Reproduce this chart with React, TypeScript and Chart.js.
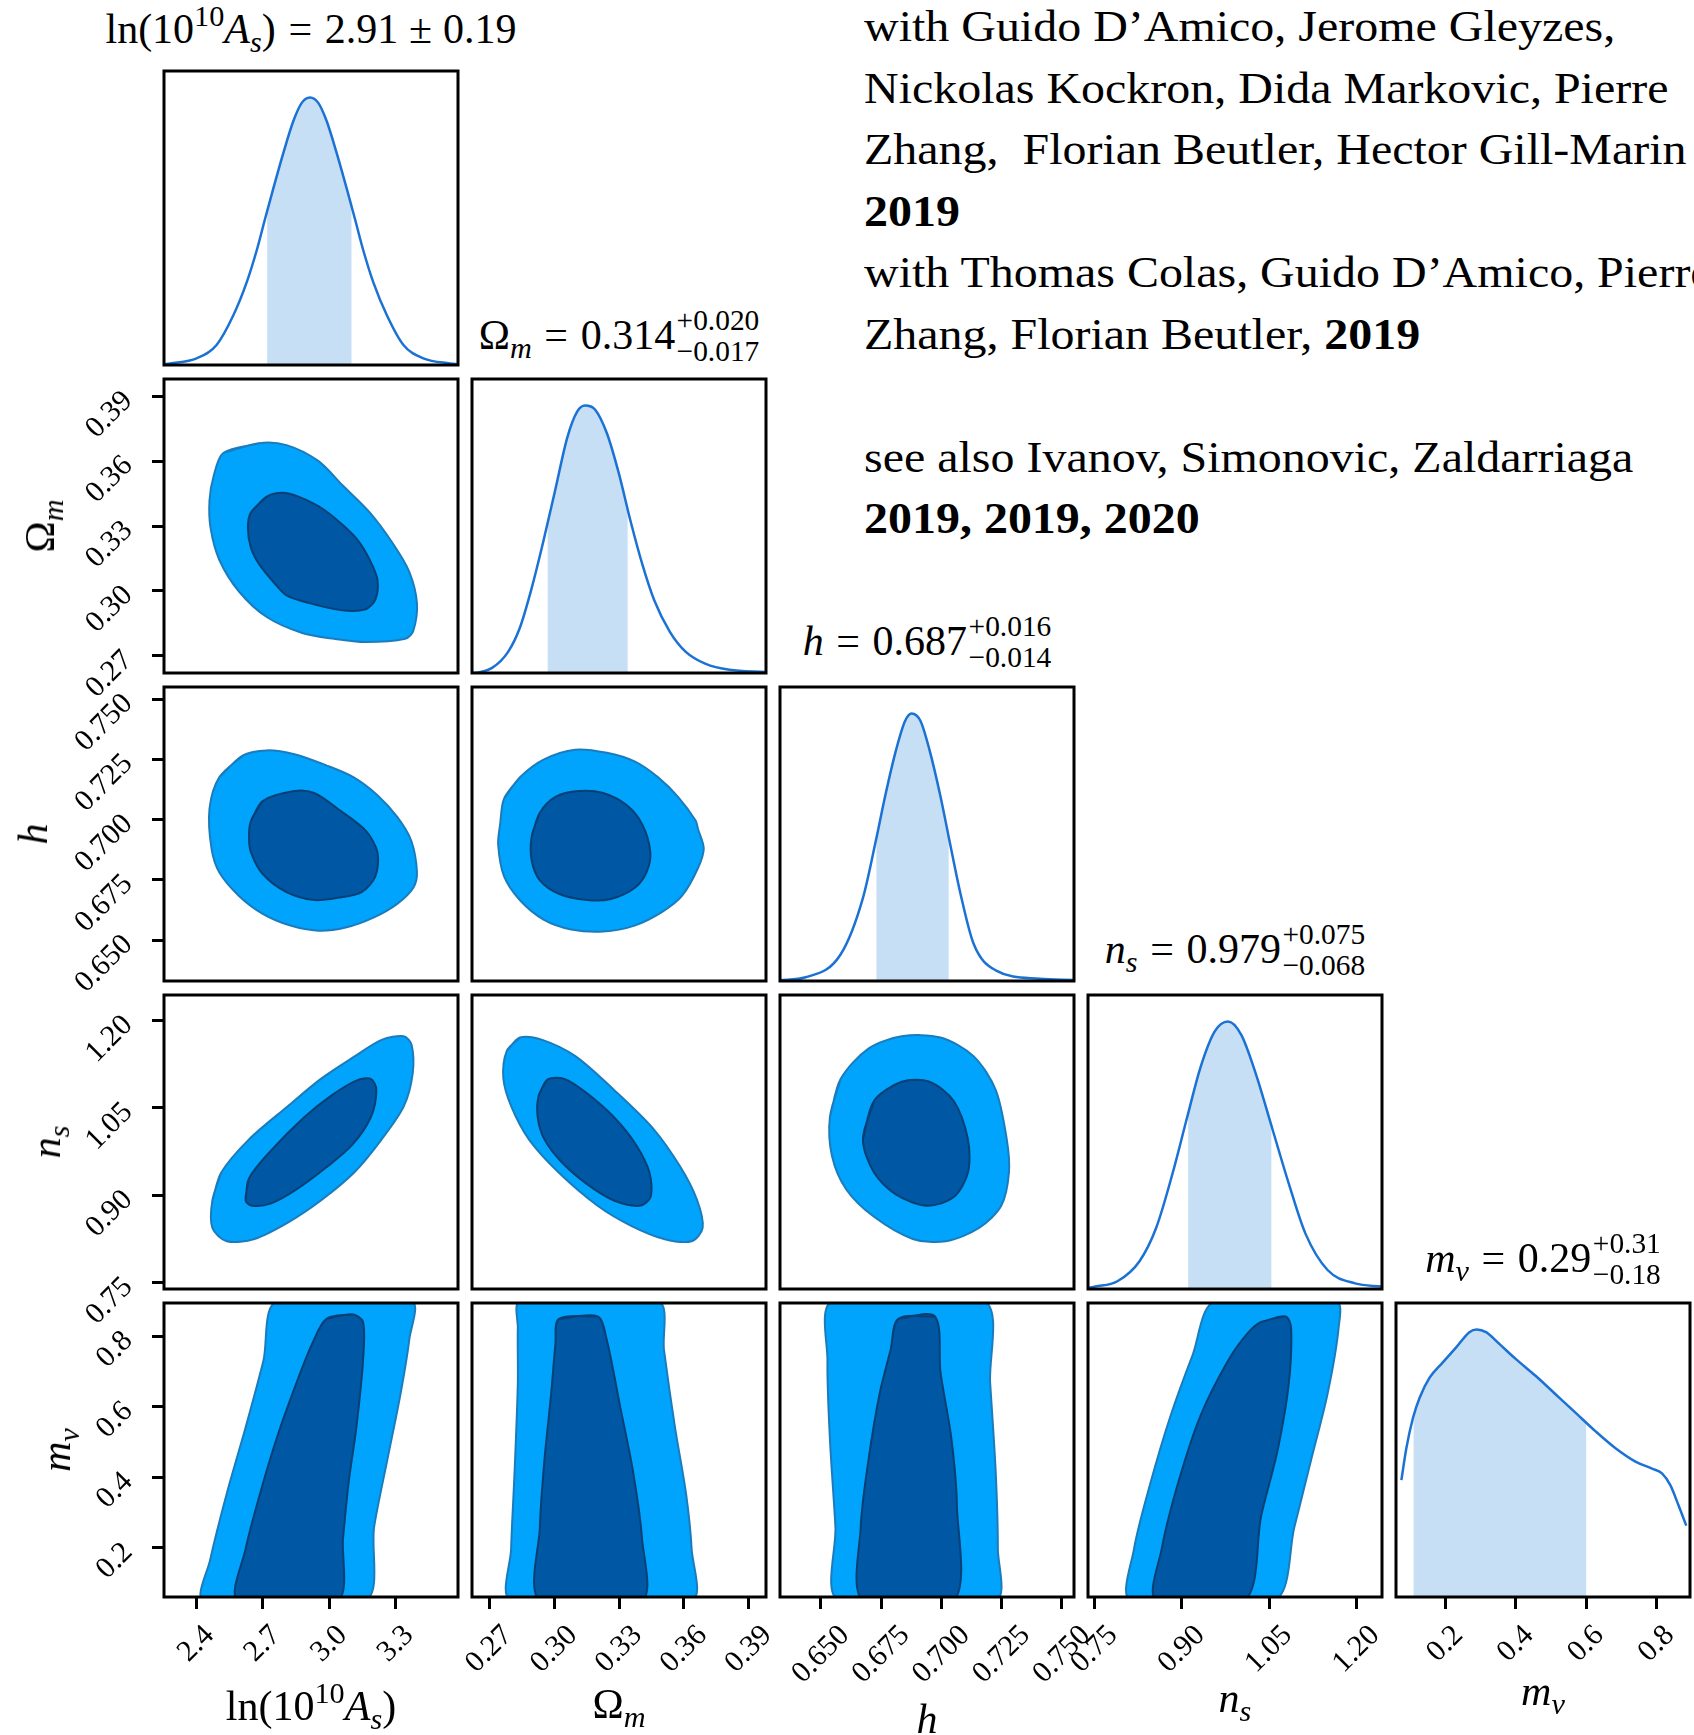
import React, { useEffect, useRef } from 'react';
import { Chart, registerables } from 'chart.js';

Chart.register(...registerables);

type P = [number, number];

// ---------------- data ----------------
const PARAM_RANGES: P[] = [
  [2.255, 3.58],
  [0.262, 0.398],
  [0.633, 0.755],
  [0.739, 1.244],
  [0.06, 0.895],
];
const TICK_VALUES: number[][] = [
  [2.4, 2.7, 3.0, 3.3],
  [0.27, 0.3, 0.33, 0.36, 0.39],
  [0.65, 0.675, 0.7, 0.725, 0.75],
  [0.75, 0.9, 1.05, 1.2],
  [0.2, 0.4, 0.6, 0.8],
];
const TICK_LABELS: string[][] = [
  ['2.4', '2.7', '3.0', '3.3'],
  ['0.27', '0.30', '0.33', '0.36', '0.39'],
  ['0.650', '0.675', '0.700', '0.725', '0.750'],
  ['0.75', '0.90', '1.05', '1.20'],
  ['0.2', '0.4', '0.6', '0.8'],
];
const DENSITY_MAX = 1.099;

const POST_CENTER = ['2.91', '0.314', '0.687', '0.979', '0.29'];
const POST_PLUS = ['0.19', '0.020', '0.016', '0.075', '0.31'];
const POST_MINUS = ['0.19', '0.017', '0.014', '0.068', '0.18'];
const SHADE_BOUNDS: P[] = [
  [2.72, 3.1],
  [0.297, 0.334],
  [0.673, 0.703],
  [0.911, 1.054],
  [0.11, 0.6],
];

const AS_1D_X = [2.255, 2.282, 2.402, 2.492, 2.567, 2.628, 2.673, 2.71, 2.748, 2.793, 2.838, 2.875, 2.913, 2.951, 2.988, 3.033, 3.078, 3.116, 3.153, 3.198, 3.26, 3.334, 3.424, 3.544, 3.58];
const AS_1D_Y = [0.003, 0.006, 0.025, 0.075, 0.185, 0.31, 0.429, 0.545, 0.661, 0.793, 0.912, 0.979, 1.0, 0.979, 0.912, 0.793, 0.661, 0.545, 0.429, 0.31, 0.185, 0.075, 0.025, 0.006, 0.003];
const OM_1D_X = [0.262, 0.264, 0.2713, 0.2787, 0.2841, 0.2896, 0.2951, 0.3006, 0.3061, 0.3107, 0.3143, 0.3189, 0.3244, 0.3299, 0.3353, 0.3408, 0.3463, 0.3536, 0.3609, 0.3701, 0.3811, 0.3975];
const OM_1D_Y = [0.0, 0.001, 0.019, 0.079, 0.168, 0.317, 0.495, 0.688, 0.881, 0.978, 1.0, 0.985, 0.896, 0.747, 0.569, 0.406, 0.272, 0.153, 0.079, 0.034, 0.012, 0.004];
const H_1D_X = [0.633, 0.6436, 0.6582, 0.6674, 0.6729, 0.6766, 0.6812, 0.6849, 0.6876, 0.6913, 0.695, 0.6996, 0.7032, 0.7078, 0.7133, 0.7225, 0.7409, 0.7546];
const H_1D_Y = [0.003, 0.014, 0.1, 0.31, 0.53, 0.69, 0.865, 0.972, 1.0, 0.972, 0.865, 0.69, 0.53, 0.33, 0.14, 0.04, 0.008, 0.004];
const NS_1D_X = [0.739, 0.7515, 0.7895, 0.8275, 0.856, 0.8845, 0.9092, 0.932, 0.9567, 0.9795, 1.0023, 1.027, 1.0555, 1.084, 1.1125, 1.1505, 1.198, 1.2436];
const NS_1D_Y = [0.004, 0.009, 0.029, 0.104, 0.228, 0.434, 0.641, 0.827, 0.963, 1.0, 0.95, 0.806, 0.6, 0.393, 0.207, 0.071, 0.021, 0.009];
const MNU_1D_X = [0.0753, 0.0894, 0.1081, 0.1271, 0.1554, 0.193, 0.2309, 0.2685, 0.2892, 0.3158, 0.3534, 0.4006, 0.4572, 0.5138, 0.5704, 0.6269, 0.6835, 0.7401, 0.7871, 0.8154, 0.8391, 0.8626, 0.8844];
const MNU_1D_Y = [0.437, 0.556, 0.669, 0.745, 0.82, 0.877, 0.933, 0.99, 1.0, 0.99, 0.946, 0.889, 0.826, 0.757, 0.688, 0.619, 0.556, 0.506, 0.48, 0.462, 0.418, 0.342, 0.267];

const AS_OM_OUTER: P[] = [[2.522, 0.3638], [2.683, 0.3683], [2.807, 0.3674], [2.95, 0.3601], [3.057, 0.3491], [3.182, 0.3363], [3.288, 0.3217], [3.36, 0.3089], [3.395, 0.2942], [3.378, 0.2814], [3.342, 0.2778], [3.164, 0.2763], [3.021, 0.2778], [2.878, 0.2805], [2.718, 0.2879], [2.593, 0.2997], [2.504, 0.3144], [2.465, 0.329], [2.46, 0.3418], [2.478, 0.3528]];
const AS_OM_INNER: P[] = [[2.647, 0.3363], [2.718, 0.3436], [2.79, 0.3454], [2.861, 0.3436], [2.968, 0.3381], [3.057, 0.3308], [3.128, 0.3235], [3.182, 0.3144], [3.217, 0.3052], [3.208, 0.2961], [3.164, 0.2915], [3.057, 0.291], [2.914, 0.2942], [2.807, 0.2979], [2.754, 0.3034], [2.683, 0.3125], [2.647, 0.3199], [2.633, 0.329]];
const AS_H_OUTER: P[] = [[2.504, 0.7175], [2.611, 0.7266], [2.718, 0.7287], [2.843, 0.7271], [2.986, 0.7225], [3.11, 0.7175], [3.217, 0.7101], [3.306, 0.7011], [3.369, 0.6913], [3.395, 0.6781], [3.378, 0.6716], [3.306, 0.665], [3.199, 0.6593], [3.074, 0.6552], [2.95, 0.6539], [2.825, 0.656], [2.7, 0.6609], [2.593, 0.6683], [2.504, 0.6781], [2.469, 0.688], [2.46, 0.7044]];
const AS_H_INNER: P[] = [[2.647, 0.6995], [2.7, 0.7077], [2.843, 0.7118], [2.932, 0.711], [3.039, 0.7044], [3.164, 0.6954], [3.217, 0.6864], [3.208, 0.6765], [3.146, 0.6699], [3.039, 0.6675], [2.932, 0.6666], [2.807, 0.6699], [2.7, 0.6774], [2.647, 0.6864], [2.638, 0.6929]];
const OM_H_OUTER: P[] = [[0.2768, 0.7086], [0.2841, 0.7175], [0.2951, 0.7249], [0.3097, 0.729], [0.3244, 0.7277], [0.3372, 0.7241], [0.3481, 0.7175], [0.3573, 0.7094], [0.3655, 0.6995], [0.3665, 0.6962], [0.3692, 0.688], [0.3665, 0.6798], [0.3591, 0.6683], [0.35, 0.6617], [0.3372, 0.656], [0.3226, 0.6535], [0.3079, 0.6544], [0.2951, 0.6585], [0.2841, 0.6666], [0.2768, 0.6765], [0.2741, 0.6896], [0.275, 0.6979]];
const OM_H_INNER: P[] = [[0.2896, 0.6929], [0.2933, 0.7027], [0.3006, 0.7094], [0.3115, 0.7118], [0.3226, 0.711], [0.3335, 0.706], [0.3408, 0.6979], [0.3445, 0.6864], [0.3427, 0.6781], [0.3372, 0.6716], [0.3262, 0.667], [0.3152, 0.6666], [0.3024, 0.6691], [0.2933, 0.6749], [0.2896, 0.6831]];
const AS_NS_OUTER: P[] = [[2.473, 0.891], [2.513, 0.939], [2.638, 0.996], [2.813, 1.053], [2.962, 1.1], [3.112, 1.138], [3.236, 1.167], [3.336, 1.173], [3.371, 1.158], [3.376, 1.11], [3.336, 1.053], [3.236, 0.996], [3.112, 0.939], [2.962, 0.891], [2.813, 0.853], [2.663, 0.825], [2.538, 0.821], [2.473, 0.844]];
const AS_NS_INNER: P[] = [[2.623, 0.891], [2.638, 0.929], [2.738, 0.977], [2.887, 1.034], [3.012, 1.072], [3.122, 1.097], [3.187, 1.1], [3.212, 1.081], [3.187, 1.034], [3.102, 0.986], [2.987, 0.948], [2.852, 0.91], [2.738, 0.886], [2.653, 0.882]];
const OM_NS_OUTER: P[] = [[0.2781, 1.148], [0.2842, 1.171], [0.2945, 1.167], [0.3098, 1.139], [0.3277, 1.081], [0.3457, 1.015], [0.3585, 0.948], [0.3662, 0.891], [0.3687, 0.844], [0.3636, 0.821], [0.3508, 0.825], [0.3354, 0.848], [0.3201, 0.882], [0.3021, 0.939], [0.2883, 0.996], [0.2801, 1.053], [0.2765, 1.101]];
const OM_NS_INNER: P[] = [[0.2929, 1.072], [0.297, 1.099], [0.3047, 1.1], [0.3149, 1.076], [0.3277, 1.034], [0.338, 0.986], [0.3441, 0.939], [0.3446, 0.897], [0.3395, 0.882], [0.3277, 0.891], [0.3149, 0.92], [0.3032, 0.958], [0.2955, 0.996], [0.2924, 1.034]];
const H_NS_OUTER: P[] = [[0.6537, 1.034], [0.6582, 1.1], [0.6697, 1.152], [0.6835, 1.173], [0.6996, 1.171], [0.7133, 1.139], [0.7225, 1.081], [0.7271, 0.996], [0.728, 0.939], [0.7248, 0.882], [0.7156, 0.844], [0.7018, 0.821], [0.6881, 0.825], [0.672, 0.863], [0.6605, 0.91], [0.6546, 0.967]];
const H_NS_INNER: P[] = [[0.6674, 0.996], [0.672, 1.062], [0.6835, 1.095], [0.695, 1.095], [0.7051, 1.062], [0.711, 0.996], [0.711, 0.939], [0.7051, 0.897], [0.6941, 0.882], [0.6812, 0.901], [0.672, 0.939]];
const AS_MNU_OUTER: P[] = [[2.763, 0.9], [3.371, 0.9], [3.361, 0.794], [3.321, 0.637], [3.261, 0.448], [3.202, 0.259], [3.162, 0.05], [2.434, 0.05], [2.463, 0.165], [2.538, 0.354], [2.623, 0.542], [2.703, 0.731]];
const AS_MNU_INNER: P[] = [[2.987, 0.85], [3.102, 0.863], [3.152, 0.841], [3.152, 0.731], [3.122, 0.542], [3.087, 0.385], [3.062, 0.228], [3.037, 0.05], [2.588, 0.05], [2.623, 0.197], [2.688, 0.354], [2.763, 0.511], [2.852, 0.668], [2.922, 0.778]];
const OM_MNU_OUTER: P[] = [[0.2842, 0.9], [0.3482, 0.9], [0.3508, 0.762], [0.3559, 0.542], [0.361, 0.354], [0.3636, 0.196], [0.3636, 0.05], [0.2801, 0.05], [0.2801, 0.196], [0.2817, 0.416], [0.2832, 0.668], [0.2832, 0.825]];
const OM_MNU_INNER: P[] = [[0.3022, 0.85], [0.3201, 0.857], [0.3242, 0.794], [0.3304, 0.605], [0.3365, 0.416], [0.3406, 0.228], [0.3406, 0.05], [0.2934, 0.05], [0.2934, 0.259], [0.2955, 0.448], [0.2986, 0.636], [0.3006, 0.778]];
const H_MNU_OUTER: P[] = [[0.6546, 0.9], [0.7179, 0.9], [0.7202, 0.668], [0.7225, 0.416], [0.7234, 0.196], [0.7225, 0.05], [0.6573, 0.05], [0.656, 0.259], [0.6537, 0.511], [0.6527, 0.731]];
const H_MNU_INNER: P[] = [[0.6821, 0.85], [0.6973, 0.857], [0.6996, 0.699], [0.7041, 0.511], [0.7064, 0.322], [0.7051, 0.05], [0.6674, 0.05], [0.6665, 0.259], [0.6697, 0.448], [0.6743, 0.636], [0.6789, 0.762]];
const NS_MNU_OUTER: P[] = [[0.9567, 0.9], [1.1657, 0.9], [1.1695, 0.825], [1.1505, 0.637], [1.122, 0.448], [1.0935, 0.259], [1.0593, 0.05], [0.8123, 0.05], [0.818, 0.196], [0.8465, 0.385], [0.8807, 0.574], [0.9187, 0.747]];
const NS_MNU_INNER: P[] = [[1.0365, 0.841], [1.0783, 0.857], [1.0878, 0.825], [1.084, 0.668], [1.065, 0.479], [1.0365, 0.291], [1.008, 0.05], [0.856, 0.05], [0.8655, 0.196], [0.894, 0.385], [0.932, 0.574], [0.9795, 0.731], [1.0137, 0.81]];

const NOTE_LINES: [string, boolean][][] = [
  [['with Guido D\u2019Amico, Jerome Gleyzes,', false]],
  [['Nickolas Kockron, Dida Markovic, Pierre', false]],
  [['Zhang,  Florian Beutler, Hector Gill-Marin', false]],
  [['2019', true]],
  [['with Thomas Colas, Guido D\u2019Amico, Pierre', false]],
  [['Zhang, Florian Beutler, ', false], ['2019', true]],
  [],
  [['see also Ivanov, Simonovic, Zaldarriaga', false]],
  [['2019, 2019, 2020', true]],
];

// tables built from the arrays above
const CURVES = [
  { x: AS_1D_X, y: AS_1D_Y },
  { x: OM_1D_X, y: OM_1D_Y },
  { x: H_1D_X, y: H_1D_Y },
  { x: NS_1D_X, y: NS_1D_Y },
  { x: MNU_1D_X, y: MNU_1D_Y },
];
const CONTOURS: Record<string, { inner: P[]; outer: P[] }> = {
  '10': { inner: AS_OM_INNER, outer: AS_OM_OUTER },
  '20': { inner: AS_H_INNER, outer: AS_H_OUTER },
  '21': { inner: OM_H_INNER, outer: OM_H_OUTER },
  '30': { inner: AS_NS_INNER, outer: AS_NS_OUTER },
  '31': { inner: OM_NS_INNER, outer: OM_NS_OUTER },
  '32': { inner: H_NS_INNER, outer: H_NS_OUTER },
  '40': { inner: AS_MNU_INNER, outer: AS_MNU_OUTER },
  '41': { inner: OM_MNU_INNER, outer: OM_MNU_OUTER },
  '42': { inner: H_MNU_INNER, outer: H_MNU_OUTER },
  '43': { inner: NS_MNU_INNER, outer: NS_MNU_OUTER },
};

// ---------------- layout / style ----------------
const PANEL = 294;
const STEP = 308;
const X0 = 164;
const Y0 = 71;
const PAD = 4;
const YAXIS_W = 130;
const XAXIS_H = 110;
const SERIF = '"Liberation Serif", "Times New Roman", serif';
const TITLE_FS = 42;
const TICK_FS = 30;
const NOTE_FS = 44;
const NOTE_SCALE_X = 1.09;
const TITLE_GAP = [28, 30, 32, 32, 31];
const XLABEL_BASE = [1720, 1718, 1733, 1712, 1705];
const YLABEL_X = [0, 40, 33, 46, 56];

const OUTER_FILL = '#00a4fc';
const OUTER_EDGE = '#1b7cbd';
const INNER_FILL = '#0058a4';
const INNER_EDGE = '#083f74';
const CURVE_COLOR = '#1b72d4';
const SHADE_COLOR = '#c7dff5';

const PANELS: { row: number; col: number }[] = [];
for (let r = 0; r < 5; r++) for (let c = 0; c <= r; c++) PANELS.push({ row: r, col: c });

function labelOffsetFor(labels: string[]) {
  const cv = document.createElement('canvas');
  const ctx = cv.getContext('2d')!;
  ctx.font = `${TICK_FS}px ${SERIF}`;
  const w = Math.max(...labels.map((l) => ctx.measureText(l).width));
  return 0.354 * w;
}

function panelGeom(row: number, col: number) {
  const showX = row === 4;
  const showY = col === 0 && row > 0;
  const padL = showX && !showY ? 50 : PAD;
  const padR = showX ? 50 : PAD;
  const padT = PAD;
  const padB = showY && !showX ? 70 : PAD;
  const yw = showY ? YAXIS_W : 0;
  const xh = showX ? XAXIS_H : 0;
  const left = X0 + STEP * col - padL - yw;
  const top = Y0 + STEP * row - padT;
  const width = padL + yw + PANEL + padR;
  const height = padT + PANEL + padB + xh;
  return { showX, showY, left, top, width, height, padL, padR, padT, padB };
}

function axisOptions(param: number, horizontal: boolean, show: boolean, is1DY: boolean) {
  const range = is1DY ? [0, DENSITY_MAX] : PARAM_RANGES[param];
  const opts: any = {
    type: 'linear',
    min: range[0],
    max: range[1],
    display: show,
    grid: {
      drawOnChartArea: false,
      drawTicks: true,
      tickLength: 12,
      tickWidth: 3,
      lineWidth: 3,
      color: '#000',
      tickColor: '#000',
    },
    border: { display: false },
    ticks: {
      autoSkip: false,
      minRotation: 45,
      maxRotation: 45,
      padding: horizontal ? 9 : 24,
      labelOffset: horizontal && show ? labelOffsetFor(TICK_LABELS[param]) : 0,
      color: '#000',
      font: { family: SERIF, size: TICK_FS },
      callback: (_v: any, i: number) => TICK_LABELS[param][i],
    },
  };
  if (!is1DY) {
    opts.afterBuildTicks = (s: any) => {
      s.ticks = TICK_VALUES[param].map((v) => ({ value: v }));
    };
  }
  if (show) {
    opts.afterFit = (s: any) => {
      if (horizontal) s.height = XAXIS_H;
      else s.width = YAXIS_W;
      s.paddingLeft = 0;
      s.paddingRight = 0;
      s.paddingTop = 0;
      s.paddingBottom = 0;
    };
  }
  return opts;
}

const framePlugin = {
  id: 'frame',
  afterDraw(chart: any) {
    const a = chart.chartArea;
    const ctx = chart.ctx;
    ctx.save();
    ctx.strokeStyle = '#000';
    ctx.lineWidth = 3;
    ctx.strokeRect(a.left, a.top, a.right - a.left, a.bottom - a.top);
    ctx.restore();
  },
};

function makeChart(canvas: HTMLCanvasElement, row: number, col: number) {
  const g = panelGeom(row, col);
  const is1D = row === col;
  const datasets: any[] = [];
  const plugins: any[] = [framePlugin];
  if (is1D) {
    const c = CURVES[col];
    const pts = () => c.x.map((x, i) => ({ x, y: c.y[i] }));
    datasets.push({
      data: pts(),
      borderColor: CURVE_COLOR,
      borderWidth: 2.5,
      pointRadius: 0,
      fill: false,
      cubicInterpolationMode: 'monotone',
    });
    datasets.push({
      data: pts(),
      borderColor: 'rgba(0,0,0,0)',
      borderWidth: 0,
      backgroundColor: SHADE_COLOR,
      pointRadius: 0,
      fill: 'origin',
      cubicInterpolationMode: 'monotone',
    });
    const [lo, hi] = SHADE_BOUNDS[col];
    plugins.push({
      id: 'shadeClip',
      beforeDatasetsDraw(chart: any) {
        const xs = chart.scales.x;
        const a = chart.chartArea;
        const ctx = chart.ctx;
        const x1 = xs.getPixelForValue(lo);
        const x2 = xs.getPixelForValue(hi);
        ctx.save();
        ctx.beginPath();
        ctx.rect(x1, a.top, x2 - x1, a.bottom - a.top);
        ctx.clip();
      },
      afterDatasetDraw(chart: any, args: any) {
        if (args.index === 1) chart.ctx.restore();
      },
    });
  } else {
    const c = CONTOURS[`${row}${col}`];
    // wrap the first two vertices so the closing vertex is smoothed like the others
    const close = (arr: P[]) => [...arr, arr[0], arr[1]].map(([x, y]) => ({ x, y }));
    datasets.push({
      data: close(c.inner),
      borderColor: INNER_EDGE,
      backgroundColor: INNER_FILL,
      borderWidth: 2,
      pointRadius: 0,
      fill: 'shape',
      tension: 0.3,
    });
    datasets.push({
      data: close(c.outer),
      borderColor: OUTER_EDGE,
      backgroundColor: OUTER_FILL,
      borderWidth: 2,
      pointRadius: 0,
      fill: 'shape',
      tension: 0.3,
    });
  }
  return new Chart(canvas, {
    type: 'line',
    data: { datasets },
    options: {
      animation: false,
      responsive: false,
      maintainAspectRatio: false,
      events: [],
      layout: {
        padding: { left: g.padL, right: g.padR, top: g.padT, bottom: g.padB },
        autoPadding: false,
      } as any,
      plugins: {
        legend: { display: false },
        tooltip: { enabled: false },
      },
      scales: {
        x: axisOptions(col, true, g.showX, false),
        y: axisOptions(row, false, g.showY, is1D),
      },
    } as any,
    plugins,
  });
}

// ---------------- text helpers ----------------
const Sub = ({ children }: { children: React.ReactNode }) => (
  <span style={{ fontSize: '0.72em', position: 'relative', top: '0.3em' }}>{children}</span>
);
const Sup = ({ children }: { children: React.ReactNode }) => (
  <span style={{ fontSize: '0.72em', position: 'relative', top: '-0.55em' }}>{children}</span>
);

function Symbol({ i }: { i: number }) {
  if (i === 0)
    return (
      <>
        ln(10<Sup>10</Sup>
        <i>A</i>
        <Sub>
          <i>s</i>
        </Sub>
        )
      </>
    );
  if (i === 1)
    return (
      <>
        Ω
        <Sub>
          <i>m</i>
        </Sub>
      </>
    );
  if (i === 2) return <i>h</i>;
  if (i === 3)
    return (
      <>
        <i>n</i>
        <Sub>
          <i>s</i>
        </Sub>
      </>
    );
  return (
    <>
      <i>m</i>
      <Sub>
        <i>ν</i>
      </Sub>
    </>
  );
}

function Title({ i }: { i: number }) {
  const cx = X0 + STEP * i + PANEL / 2;
  const base = Y0 + STEP * i - TITLE_GAP[i];
  const sym = POST_PLUS[i] === POST_MINUS[i];
  return (
    <div
      style={{
        position: 'absolute',
        left: cx,
        top: base - 0.8375 * TITLE_FS,
        transform: 'translateX(-50%)',
        fontFamily: SERIF,
        fontSize: TITLE_FS,
        lineHeight: 1,
        whiteSpace: 'nowrap',
        color: '#000',
      }}
    >
      <Symbol i={i} />
      <span style={{ margin: '0 0.3em' }}>=</span>
      {POST_CENTER[i]}
      {sym ? (
        <>
          <span style={{ margin: '0 0.26em' }}>±</span>
          {POST_PLUS[i]}
        </>
      ) : (
        <span style={{ position: 'relative', display: 'inline-block', fontSize: '0.7em', marginLeft: '0.05em' }}>
          <span style={{ visibility: 'hidden' }}>+{POST_PLUS[i]}</span>
          <span style={{ position: 'absolute', left: 0, top: '-0.64em' }}>+{POST_PLUS[i]}</span>
          <span style={{ position: 'absolute', left: 0, top: '0.42em' }}>−{POST_MINUS[i]}</span>
        </span>
      )}
    </div>
  );
}

function XLabel({ i }: { i: number }) {
  const cx = X0 + STEP * i + PANEL / 2;
  return (
    <div
      style={{
        position: 'absolute',
        left: cx,
        top: XLABEL_BASE[i] - 0.8375 * TITLE_FS,
        transform: 'translateX(-50%)',
        fontFamily: SERIF,
        fontSize: TITLE_FS,
        lineHeight: 1,
        whiteSpace: 'nowrap',
        color: '#000',
      }}
    >
      <Symbol i={i} />
    </div>
  );
}

function YLabel({ i }: { i: number }) {
  const cy = Y0 + STEP * i + PANEL / 2;
  return (
    <div
      style={{
        position: 'absolute',
        left: YLABEL_X[i],
        top: cy,
        transform: 'translate(-50%, -50%) rotate(-90deg)',
        fontFamily: SERIF,
        fontSize: TITLE_FS,
        lineHeight: 1,
        whiteSpace: 'nowrap',
        color: '#000',
      }}
    >
      <Symbol i={i} />
    </div>
  );
}

export default function App() {
  const refs = useRef<(HTMLCanvasElement | null)[]>([]);

  useEffect(() => {
    document.body.style.margin = '0';
    const charts = PANELS.map((p, k) => makeChart(refs.current[k]!, p.row, p.col));
    return () => charts.forEach((c) => c.destroy());
  }, []);

  return (
    <div
      style={{
        position: 'absolute',
        left: 0,
        top: 0,
        width: 1694,
        height: 1735,
        overflow: 'hidden',
        background: '#fff',
      }}
    >
      {PANELS.map((p, k) => {
        const g = panelGeom(p.row, p.col);
        return (
          <canvas
            key={k}
            ref={(el) => {
              refs.current[k] = el;
            }}
            width={g.width}
            height={g.height}
            style={{
              position: 'absolute',
              left: g.left,
              top: g.top,
              width: g.width,
              height: g.height,
              display: 'block',
            }}
          />
        );
      })}
      {[0, 1, 2, 3, 4].map((i) => (
        <Title key={'t' + i} i={i} />
      ))}
      {[0, 1, 2, 3, 4].map((i) => (
        <XLabel key={'x' + i} i={i} />
      ))}
      {[1, 2, 3, 4].map((i) => (
        <YLabel key={'y' + i} i={i} />
      ))}
      {NOTE_LINES.map((segs, k) => (
        <div
          key={'n' + k}
          style={{
            position: 'absolute',
            left: 864,
            top: 42 + 61.5 * k - 0.8375 * NOTE_FS,
            fontFamily: SERIF,
            fontSize: NOTE_FS,
            lineHeight: 1,
            whiteSpace: 'pre',
            transform: `scaleX(${NOTE_SCALE_X})`,
            transformOrigin: 'left top',
            color: '#000',
          }}
        >
          {segs.map(([t, b], j) => (
            <span key={j} style={{ fontWeight: b ? 'bold' : 'normal' }}>
              {t}
            </span>
          ))}
        </div>
      ))}
    </div>
  );
}
